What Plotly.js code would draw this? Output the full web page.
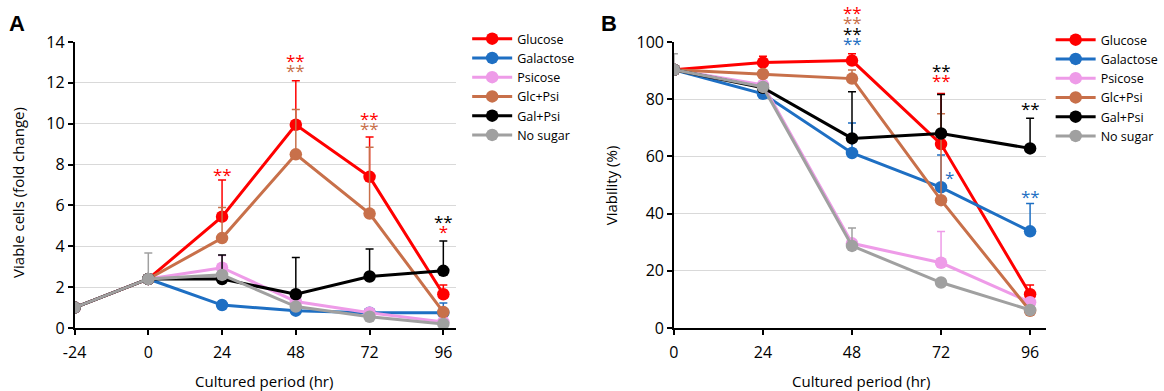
<!DOCTYPE html>
<html><head><meta charset="utf-8">
<script src="https://cdn.plot.ly/plotly-3.0.1.min.js"></script>
<style>html,body{margin:0;padding:0;background:#fff}#chart{width:1164px;height:391px}</style>
</head><body><div id="chart"></div>
<script>
// ---------- data ----------
const seriesNames = ["Glucose", "Galactose", "Psicose", "Glc+Psi", "Gal+Psi", "No sugar"];
const seriesColors = ["#FF0000", "#1E6FC3", "#EE9BE8", "#C8704A", "#000000", "#A0A0A0"];

// Panel A: viable cells (fold change)
const hoursA = [-24, 0, 24, 48, 72, 96];
const tickTextA = ["-24", "0", "24", "48", "72", "96"];
const glucoseA   = [1, 2.4, 5.45, 9.95, 7.4, 1.65];
const galactoseA = [1, 2.4, 1.12, 0.85, 0.75, 0.75];
const psicoseA   = [1, 2.4, 2.95, 1.3, 0.75, 0.3];
const glcPsiA    = [1, 2.4, 4.4, 8.5, 5.6, 0.78];
const galPsiA    = [1, 2.4, 2.4, 1.65, 2.52, 2.8];
const noSugarA   = [1, 2.4, 2.6, 1.05, 0.55, 0.2];
const glucoseErrA   = [0, 0, 1.8, 2.15, 1.95, 0.45];
const galactoseErrA = [0, 0, 0.2, 0.1, 0.1, 0.47];
const psicoseErrA   = [0, 0, 0.6, 0.2, 0.1, 0.1];
const glcPsiErrA    = [0, 0, 1.5, 2.2, 3.25, 0.1];
const galPsiErrA    = [0, 0, 1.17, 1.8, 1.35, 1.46];
const noSugarErrA   = [0, 1.27, 0.2, 0.1, 0.1, 0.1];

// Panel B: viability (%)
const hoursB = [0, 24, 48, 72, 96];
const glucoseB   = [90.3, 92.8, 93.5, 64.3, 11.8];
const galactoseB = [90.3, 81.9, 61.2, 49.2, 33.8];
const psicoseB   = [90.3, 85.0, 29.6, 22.8, 9.0];
const glcPsiB    = [90.3, 88.8, 87.2, 44.7, 6.0];
const galPsiB    = [90.3, 84.0, 66.3, 68.0, 62.8];
const noSugarB   = [90.3, 84.3, 28.7, 15.9, 6.3];
const glucoseErrB   = [0, 2.2, 2.4, 17.7, 3.2];
const galactoseErrB = [0, 1, 10.5, 11.3, 9.7];
const psicoseErrB   = [0, 1, 1, 10.9, 1];
const glcPsiErrB    = [0, 1, 3, 30.2, 1];
const galPsiErrB    = [0, 1, 16.3, 13.6, 10.5];
const noSugarErrB   = [5.6, 1, 6.3, 1, 1];

// significance marks (stacks of asterisks, top line first)
const RED = "#FF0000", BLUE = "#1E6FC3", BROWN = "#C8704A", BLACK = "#000000";
const starA_x = [24, 48, 72, 96];
const starA_y = [7.5, 12.85, 10.0, 4.95];
const starA_anchor = ["middle", "middle", "middle", "middle"];
const starA_marks = [
  [["**", RED]],
  [["**", RED], ["**", BROWN]],
  [["**", RED], ["**", BROWN]],
  [["**", BLACK], ["*", RED]]
];
const starB_x = [48, 72, 72, 96, 96];
const starB_y = [94.6, 88.3, 52.6, 76.8, 46.0];
const starB_anchor = ["bottom", "middle", "middle", "middle", "middle"];
const starB_dx = [0, 0, 8, 0, 0];
const starB_marks = [
  [["**", RED], ["**", BROWN], ["**", BLACK], ["**", BLUE]],
  [["**", BLACK], ["**", RED]],
  [["*", BLUE]],
  [["**", BLACK]],
  [["**", BLUE]]
];

const ticksB = [0, 24, 48, 72, 96];

// ---------- build ----------
const valsA = [glucoseA, galactoseA, psicoseA, glcPsiA, galPsiA, noSugarA];
const errsA = [glucoseErrA, galactoseErrA, psicoseErrA, glcPsiErrA, galPsiErrA, noSugarErrA];
const valsB = [glucoseB, galactoseB, psicoseB, glcPsiB, galPsiB, noSugarB];
const errsB = [glucoseErrB, galactoseErrB, psicoseErrB, glcPsiErrB, galPsiErrB, noSugarErrB];

function mkTrace(x, y, err, i, xa, ya, leg) {
  return {
    type: "scatter", mode: "lines+markers", name: seriesNames[i],
    x: x, y: y, xaxis: xa, yaxis: ya, legend: leg,
    line: {color: seriesColors[i], width: 3},
    marker: {color: seriesColors[i], size: 12.5},
    error_y: {type: "data", symmetric: false, array: err, arrayminus: err.map(() => 0),
              color: seriesColors[i], thickness: 1.5, width: 4},
    hoverinfo: "x+y+name"
  };
}
const traces = [];
for (let i = 0; i < 6; i++) traces.push(mkTrace(hoursA, valsA[i], errsA[i], i, "x", "y", "legend"));
for (let i = 0; i < 6; i++) traces.push(mkTrace(hoursB, valsB[i], errsB[i], i, "x2", "y2", "legend2"));

const FONT = "Open Sans, Noto Sans, Liberation Sans, sans-serif";
function stackText(marks) {
  return marks.map(m => '<span style="font-size:17px;fill:' + m[1] + '">' + m[0] + '</span>').join("<br>");
}
const ann = [];
starA_x.forEach((x, k) => ann.push({xref: "x", yref: "y", x: x, y: starA_y[k], yanchor: starA_anchor[k],
  text: stackText(starA_marks[k]), showarrow: false, xanchor: "center", font: {size: 8, family: FONT}}));
starB_x.forEach((x, k) => ann.push({xref: "x2", yref: "y2", x: x, y: starB_y[k], yanchor: starB_anchor[k],
  xshift: starB_dx[k], text: stackText(starB_marks[k]), showarrow: false, xanchor: "center", font: {size: 8, family: FONT}}));

// titles / labels
const lbl = (x, y, text, size, extra) => Object.assign({xref: "paper", yref: "paper", x: x / 1164, y: (391 - y) / 391,
  text: text, showarrow: false, xanchor: "center", yanchor: "middle", font: {size: size, family: FONT, color: "#000"}}, extra || {});
ann.push(lbl(17, 23, "<b>A</b>", 22, {font: {size: 22, family: "Liberation Sans, Arial, sans-serif", color: "#000"}}));
ann.push(lbl(613, 23, "<b>B</b>", 22, {font: {size: 22, family: "Liberation Sans, Arial, sans-serif", color: "#000"}}));
ann.push(lbl(18, 192, "Viable cells (fold change)", 15, {textangle: -90}));
ann.push(lbl(615, 185, "Viability (%)", 15, {textangle: -90}));
ann.push(lbl(266, 381, "Cultured period (hr)", 15));
ann.push(lbl(866, 381, "Cultured period (hr)", 15));

const yDom = [(391 - 328) / 391, (391 - 42) / 391];
const axCommon = {showline: true, linecolor: "#000", linewidth: 1.5, ticks: "outside", ticklen: 5,
  tickcolor: "#000", tickwidth: 1.5, tickfont: {size: 16, family: FONT, color: "#000"}, zeroline: false, fixedrange: true};
const layout = {
  width: 1164, height: 391, autosize: false,
  margin: {l: 0, r: 0, t: 0, b: 0},
  paper_bgcolor: "#fff", plot_bgcolor: "#fff",
  font: {family: FONT, color: "#000"},
  showlegend: true,
  xaxis: Object.assign({}, axCommon, {domain: [75 / 1164, 459 / 1164], range: [-24, 100.2], tickmode: "array",
    tickvals: hoursA, ticktext: tickTextA, showgrid: false, anchor: "y", ticklabelstandoff: 4}),
  yaxis: Object.assign({}, axCommon, {domain: yDom, range: [0, 14], dtick: 2, showgrid: true, gridcolor: "#D9D9D9", gridwidth: 1, anchor: "x"}),
  xaxis2: Object.assign({}, axCommon, {domain: [678 / 1164, 1052 / 1164], range: [0, 100.2], tickmode: "array",
    tickvals: ticksB, showgrid: false, anchor: "y2", ticklabelstandoff: 4}),
  yaxis2: Object.assign({}, axCommon, {domain: yDom, range: [0, 100], dtick: 20, showgrid: true, gridcolor: "#D9D9D9", gridwidth: 1, anchor: "x2"}),
  legend: {x: 470 / 1164, y: (391 - 24) / 391, xanchor: "left", yanchor: "top", bgcolor: "rgba(0,0,0,0)",
    font: {size: 12.5, family: FONT, color: "#000"}, itemwidth: 40, tracegroupgap: 0},
  legend2: {x: 1057 / 1164, y: (391 - 25) / 391, xanchor: "left", yanchor: "top", bgcolor: "rgba(0,0,0,0)",
    font: {size: 12.5, family: FONT, color: "#000"}, itemwidth: 40, tracegroupgap: 0},
  annotations: ann
};
Plotly.newPlot("chart", traces, layout, {displayModeBar: false});
</script></body></html>
